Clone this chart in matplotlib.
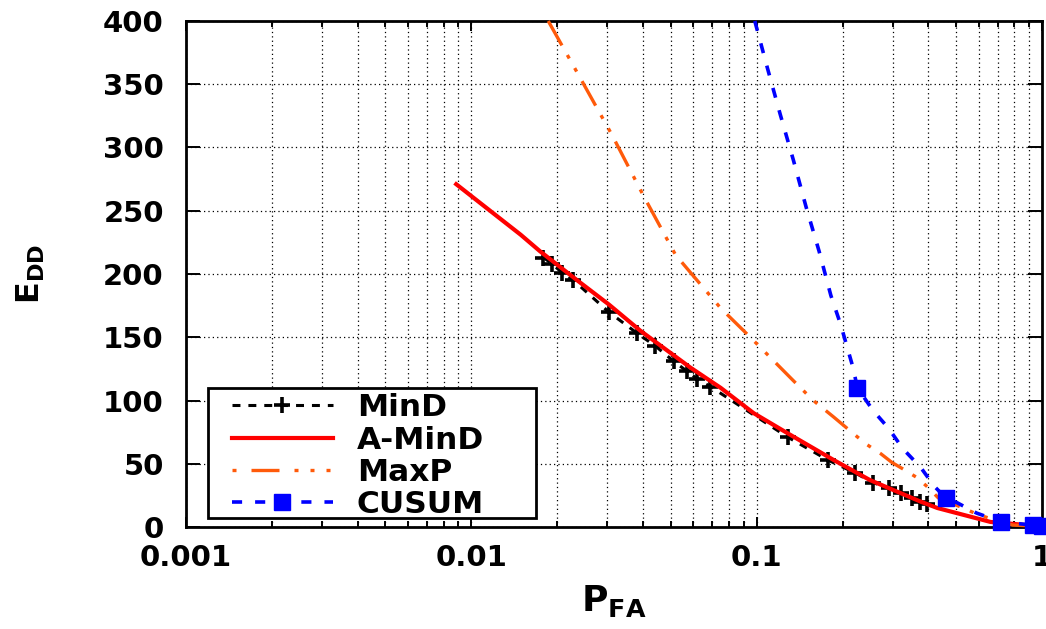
import matplotlib
matplotlib.use("Agg")
import matplotlib.pyplot as plt
from matplotlib.lines import Line2D
from matplotlib.patches import Rectangle

# MinD (points joined by a dashed line)
mind_pfa = [0.0179, 0.0192, 0.0208, 0.0228, 0.0303, 0.0382, 0.0442, 0.0512, 0.0571,
            0.0619, 0.0688, 0.1286, 0.1775, 0.222, 0.256, 0.29, 0.32, 0.35, 0.375, 0.395]
mind_edd = [213, 208, 201, 195, 170, 153, 143, 131, 123,
            117, 111, 71, 53, 42.6, 35, 31, 27, 23, 20, 18]

# A-MinD (solid)
amind_pfa = [0.00885, 0.0149, 0.0174, 0.0235, 0.0303, 0.0392, 0.0586, 0.0748, 0.0976,
             0.1286, 0.186, 0.25, 0.376, 0.43, 0.66, 1.0]
amind_edd = [271, 231, 218, 195, 176, 155, 126, 110, 90,
             74, 53, 37, 20, 15, 4, 0.5]

# MaxP (dash-dot-dot)
maxp_pfa = [0.0186, 0.0238, 0.0311, 0.0403, 0.052, 0.0748, 0.095, 0.134, 0.158, 0.186,
            0.205, 0.226, 0.244, 0.272, 0.298, 0.325, 0.365, 0.40, 0.433, 0.53, 0.60,
            0.79, 1.0]
maxp_edd = [400, 357, 310, 261, 215, 173, 150, 116, 100, 87,
            79, 71, 65, 58, 51, 46, 39, 31, 23, 15, 9.5,
            1.5, 0.5]

# CUSUM (dashed, squares on some points)
cusum_pfa = [0.0985, 0.109, 0.121, 0.1345, 0.149, 0.1655, 0.182, 0.197, 0.217, 0.2255,
             0.256, 0.29, 0.325, 0.376, 0.42, 0.46, 0.506, 0.59, 0.72, 0.93, 1.0]
cusum_edd = [400, 363, 326, 290, 253, 218, 183, 160, 127, 110,
             92, 78, 62, 47, 32, 23, 19, 11, 4, 1.5, 1]
cusum_marks = [9, 15, 18, 19, 20]

labels = ["MinD", "A-MinD", "MaxP", "CUSUM"]
xticks = [0.001, 0.01, 0.1, 1]
xtick_labels = ["0.001", "0.01", "0.1", "1"]
yticks = [0, 50, 100, 150, 200, 250, 300, 350, 400]

plt.rcParams["font.family"] = "DejaVu Sans"
plt.rcParams["font.weight"] = "bold"
plt.rcParams["font.size"] = 21
plt.rcParams["mathtext.fontset"] = "dejavusans"

fig = plt.figure(figsize=(10.46, 6.29), dpi=100)
ax = fig.add_axes([186 / 1046, 1 - 527 / 629, (1042 - 186) / 1046, (527 - 21) / 629])

ax.set_xscale("log")
ax.set_xlim(0.001, 1)
ax.set_ylim(0, 400)

# dotted grid: every decade and sub-decade on x, every 50 on y
ax.xaxis.grid(True, which="both", color="black", linestyle=(0, (1, 2.5)), linewidth=0.9)
ax.yaxis.grid(True, which="major", color="black", linestyle=(0, (1, 2.5)), linewidth=0.9)
ax.set_axisbelow(True)

mind_style = dict(color="black", linewidth=2.2, linestyle=(0, (2.6, 2.6)),
                  marker="+", markersize=11, markeredgewidth=2.6)
amind_style = dict(color="#ff0000", linewidth=3.0, linestyle="-")
maxp_style = dict(color="#ff5a0a", linewidth=2.4,
                  linestyle=(0, (8.4, 3.3, 1.2, 3.3, 1.2, 3.3)))
cusum_style = dict(color="#0000ff", linewidth=2.6, linestyle=(0, (2.8, 3.6)),
                   marker="s", markersize=11)

ax.plot(mind_pfa, mind_edd, clip_on=False, zorder=3, **mind_style)
ax.plot(amind_pfa, amind_edd, clip_on=False, zorder=4, **amind_style)
ax.plot(maxp_pfa, maxp_edd, clip_on=False, zorder=5, **maxp_style)
ax.plot(cusum_pfa, cusum_edd, markevery=cusum_marks, clip_on=False, zorder=6, **cusum_style)

ax.set_xticks(xticks)
ax.set_xticklabels(xtick_labels)
ax.set_yticks(yticks)
ax.tick_params(which="both", direction="in", top=True, right=True, width=1.4, colors="black")
ax.tick_params(axis="x", which="major", length=7, pad=12)
ax.tick_params(axis="x", which="minor", length=4)
ax.tick_params(axis="y", which="major", length=10, pad=16)
for s in ax.spines.values():
    s.set_linewidth(2.0)

ax.set_xlabel(r"$\mathbf{P}_{\mathbf{FA}}$", fontsize=26, labelpad=8)
ax.set_ylabel(r"$\mathbf{E}_{\mathbf{DD}}$", fontsize=23, labelpad=40)

# key box drawn by hand, gnuplot style
frame = Rectangle((0.0257, 0.0178), 0.3832, 0.2569, transform=ax.transAxes,
                  facecolor="white", edgecolor="black", linewidth=2.0, zorder=9,
                  clip_on=False)
ax.add_patch(frame)

handles = [Line2D([], [], **mind_style), Line2D([], [], **amind_style),
           Line2D([], [], color="#ff5a0a", linewidth=2.4,
                  linestyle=(0, (1.2, 4.5, 8.4, 4.5, 1.2, 3.6, 1.2, 3.6))),
           Line2D([], [], **cusum_style)]
leg = ax.legend(handles, labels, loc="upper left", bbox_to_anchor=(0.0537, 0.264),
                fontsize=22.5, frameon=False, handlelength=3.23, handletextpad=0.77,
                labelspacing=0.1, borderpad=0, borderaxespad=0, numpoints=1)
leg.set_zorder(10)

fig.savefig("out.png", dpi=100)
